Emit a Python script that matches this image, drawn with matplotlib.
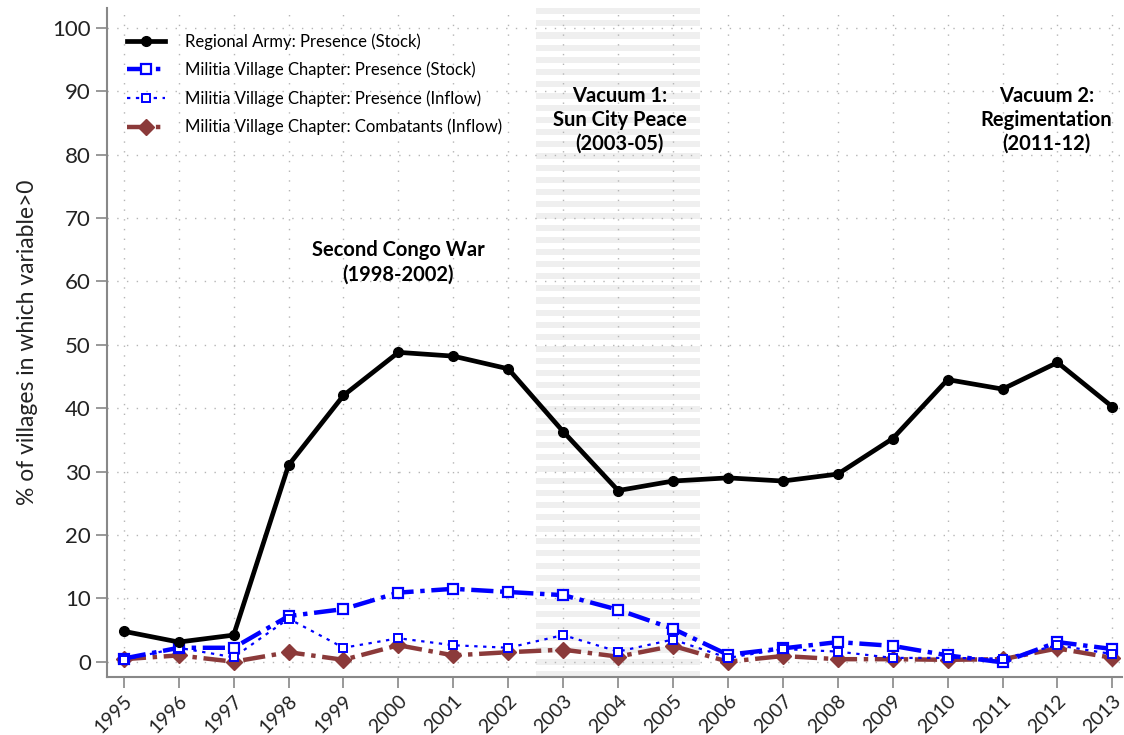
import numpy as np
import matplotlib.pyplot as plt

plt.rcParams['font.family'] = ['Lato', 'DejaVu Sans']

years = list(range(1995, 2014))

army_stock = [4.8, 3.1, 4.2, 31.0, 42.0, 48.8, 48.2, 46.2, 36.3, 27.0,
              28.5, 29.0, 28.5, 29.6, 35.2, 44.5, 43.0, 47.2, 40.2]
militia_stock = [0.5, 2.2, 2.2, 7.2, 8.3, 10.9, 11.5, 11.0, 10.5, 8.2,
                 5.2, 1.1, 2.1, 3.1, 2.5, 1.0, -0.1, 3.1, 2.0]
militia_inflow = [0.3, 2.2, 0.7, 6.8, 2.2, 3.7, 2.6, 2.2, 4.2, 1.6,
                  3.5, 0.6, 2.0, 1.6, 0.6, 0.6, 0.5, 2.6, 1.2]
combatants_inflow = [0.4, 1.0, 0.0, 1.5, 0.3, 2.6, 1.0, 1.5, 1.9, 0.8,
                     2.5, 0.0, 0.9, 0.4, 0.4, 0.3, 0.4, 2.1, 0.6]

vacuum1 = (2002.5, 2005.5)

fig = plt.figure(figsize=(11.24, 7.35), dpi=100)
ax = fig.add_axes([0.095, 0.079, 0.903, 0.91])

# striped shading for the first vacuum period
for y0 in np.arange(-2.4, 103.2, 1.9):
    ax.fill_between(vacuum1, y0, y0 + 0.95, color='#efefef', lw=0, zorder=0)

ax.plot(years, army_stock, color='black', lw=3.4, marker='o', ms=7,
        label='Regional Army: Presence (Stock)', zorder=5)
ax.plot(years, militia_stock, color='#0000ff', lw=3.2, ls=(0, (5, 1.5, 1, 1.5)),
        marker='s', ms=7, mfc='white', mew=1.6,
        label='Militia Village Chapter: Presence (Stock)', zorder=4)
ax.plot(years, militia_inflow, color='#0000ff', lw=1.6, ls=(0, (1.5, 2.5)),
        marker='s', ms=6, mfc='white', mew=1.4,
        label='Militia Village Chapter: Presence (Inflow)', zorder=4)
ax.plot(years, combatants_inflow, color='#8b3a3a', lw=3.2, ls=(0, (5, 1.5, 1, 1.5)),
        marker='D', ms=8,
        label='Militia Village Chapter: Combatants (Inflow)', zorder=3)

ax.set_xlim(1994.69, 2013.17)
ax.set_ylim(-2.4, 103.1)
ax.set_xticks(years)
ax.set_xticklabels([str(y) for y in years], rotation=45, ha='right',
                   rotation_mode='anchor', fontsize=14, color='#222222')
ax.set_yticks(range(0, 101, 10))
ax.tick_params(axis='y', labelsize=16, labelcolor='#222222', length=8,
               color='#888888', width=1.2)
ax.tick_params(axis='x', length=8, color='#888888', width=1.2, pad=3)
ax.grid(True, color='#b5b5b5', ls=(0, (1, 6)), lw=1)
ax.set_axisbelow(True)
for s in ['top', 'right']:
    ax.spines[s].set_visible(False)
for s in ['left', 'bottom']:
    ax.spines[s].set_color('#888888')
    ax.spines[s].set_linewidth(1.5)

ax.set_ylabel('% of villages in which variable>0', fontsize=16.5,
              color='#222222', labelpad=10)

ax.text(2000.0, 63, 'Second Congo War\n(1998-2002)', ha='center', va='center',
        fontsize=14.5, fontweight='bold', linespacing=1.25)
ax.text(2004.03, 85.5, 'Vacuum 1:\nSun City Peace\n(2003-05)', ha='center',
        va='center', fontsize=14.5, fontweight='bold', linespacing=1.25)
ax.text(2011.8, 85.5, 'Vacuum 2:\nRegimentation\n(2011-12)', ha='center',
        va='center', fontsize=14.5, fontweight='bold', linespacing=1.25)

ax.legend(loc='upper left', bbox_to_anchor=(0.005, 0.985), frameon=False,
          fontsize=12, handlelength=2.3, labelspacing=0.72, handletextpad=1.2)

fig.savefig('out.png', dpi=100)
